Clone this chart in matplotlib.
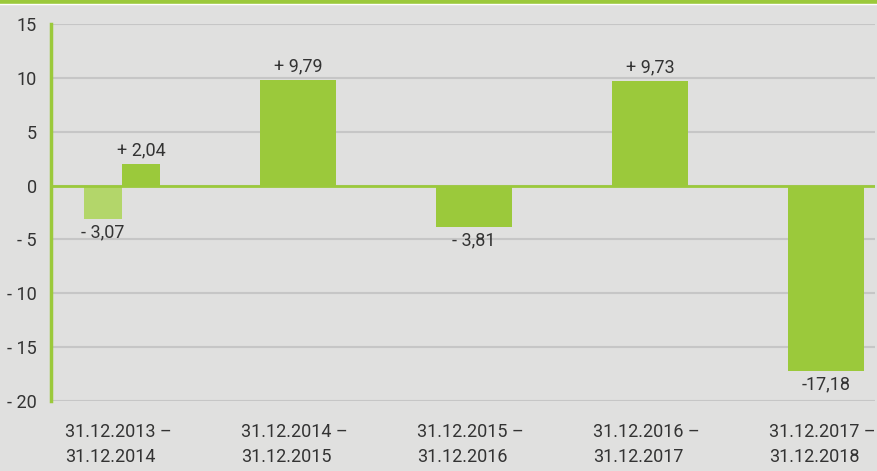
import numpy as np
import matplotlib
matplotlib.use('Agg')
from matplotlib import pyplot as plt
from matplotlib.lines import Line2D

periods = ['31.12.2013 –\n31.12.2014', '31.12.2014 –\n31.12.2015', '31.12.2015 –\n31.12.2016',
           '31.12.2016 –\n31.12.2017', '31.12.2017 –\n31.12.2018']
values = [2.04, 9.79, -3.81, 9.73, -17.18]
labels = ['+ 2,04', '+ 9,79', '- 3,81', '+ 9,73', '-17,18']
first_extra = -3.07
first_extra_label = '- 3,07'
yticks = [15, 10, 5, 0, -5, -10, -15, -20]
ytick_labels = ['15', '10', '5', '0', '- 5', '- 10', '- 15', '- 20']

bg = '#e0e0df'
green = '#9bc93b'
light = '#b3d66a'
txt = '#333333'

plt.rcParams['font.family'] = ['Roboto', 'DejaVu Sans']

fig = plt.figure(figsize=(8.78, 4.71), dpi=100, facecolor=bg)
ax = fig.add_axes([51/878, 1-401/471, (875-51)/878, (401-24)/471])
ax.set_facecolor(bg)

x = np.arange(len(values))
w = 0.432
# main bars (first one shifted right, paired with lighter bar)
xs = x.astype(float).copy()
xs[0] += w/4
widths = [w/2] + [w]*(len(values)-1)
ax.bar(xs, values, width=widths, color=green, zorder=3)
ax.bar(x[0] - w/4, first_extra, width=w/2, color=light, zorder=3)

for xi, v, lab in zip(xs, values, labels):
    if v >= 0:
        ax.text(xi, v + 0.4, lab, ha='center', va='bottom', fontsize=13, color=txt)
    else:
        ax.text(xi, v - 0.4, lab, ha='center', va='top', fontsize=13, color=txt)
ax.text(x[0] - w/4, first_extra - 0.4, first_extra_label, ha='center', va='top', fontsize=13, color=txt)

ax.set_ylim(-20, 15)
ax.set_xlim(-0.403, 4.278)
ax.set_yticks(yticks)
ax.set_yticklabels(ytick_labels, fontsize=13, color=txt)
ax.set_xticks(x - 0.325)
ax.set_xticklabels(periods, fontsize=13, color=txt, ha='left', linespacing=1.5)
ax.tick_params(length=0)
ax.tick_params(axis='y', pad=10)
ax.tick_params(axis='x', pad=16)
ax.grid(axis='y', color='#c6c6c6', linewidth=1.5, zorder=0)
ax.axhline(0, color=green, linewidth=2, zorder=4)
for s in ['top', 'right', 'bottom']:
    ax.spines[s].set_visible(False)
ax.spines['left'].set_color(green)
ax.spines['left'].set_linewidth(2.5)

fig.add_artist(Line2D([0, 1], [1 - 1.5/471, 1 - 1.5/471], color=green, linewidth=3, transform=fig.transFigure))
fig.add_artist(Line2D([0, 1], [1 - 4/471, 1 - 4/471], color='white', linewidth=1, transform=fig.transFigure))

plt.savefig('out.png', dpi=100, facecolor=bg)
